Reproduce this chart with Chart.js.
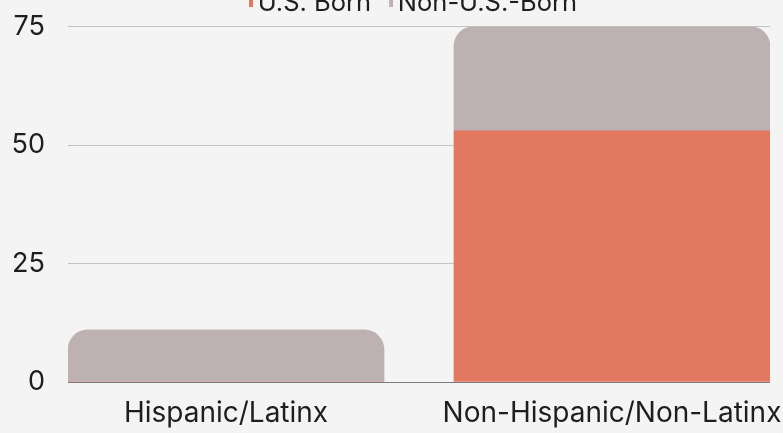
<!DOCTYPE html>
<html><head><meta charset="utf-8">
<script src="https://cdn.jsdelivr.net/npm/chart.js@4.4.1/dist/chart.umd.min.js"></script>
<style>
html,body{margin:0;padding:0;background:#f4f4f4;overflow:hidden;width:783px;height:433px}
#wrap{position:absolute;left:0;top:-19px;width:783px;height:452px}
</style></head><body>
<div id="wrap"><canvas id="c"></canvas></div>
<script>
const categories = ['Hispanic/Latinx', 'Non-Hispanic/Non-Latinx'];
const seriesNames = ['U.S. Born', 'Non-U.S.-Born'];
const usBorn = [0, 53];
const nonUsBorn = [11, 22];
const yTicks = [0, 25, 50, 75];

const COLORS = ['#e1785f', '#bdb1b2'];
function marker(color){
  const cv = document.createElement('canvas');
  cv.width = 20; cv.height = 7;
  const g = cv.getContext('2d');
  g.fillStyle = color; g.fillRect(16, 0, 4, 7);
  return cv;
}
const markers = COLORS.map(marker);
const toPoints = arr => arr.map((v, i) => ({x: i, y: v}));

const legendShift = {
  id: 'legendShift',
  afterLayout(chart) { const l = chart.legend; if (l) { l.left -= 10; l.right -= 10; } }
};

new Chart(document.getElementById('c'), {
  type: 'bar',
  data: { datasets: [
    {label: seriesNames[0], data: toPoints(usBorn), backgroundColor: COLORS[0], borderRadius: 0, barThickness: 316},
    {label: seriesNames[1], data: toPoints(nonUsBorn), backgroundColor: COLORS[1], borderRadius: 20, barThickness: 316}
  ]},
  plugins: [legendShift],
  options: {
    responsive: true, maintainAspectRatio: false, animation: false,
    layout: {padding: {left: 0, right: 13, top: 0, bottom: 0}},
    plugins: {
      legend: {
        display: true, position: 'top', fullSize: false,
        labels: {
          font: {family: 'Inter', size: 25.5, lineHeight: 29/25.5}, color: '#1e1e1e',
          boxWidth: 4, boxHeight: 7, usePointStyle: true, padding: 10,
          generateLabels(chart) {
            return chart.data.datasets.map((ds, i) => ({
              text: ds.label, fillStyle: ds.backgroundColor, strokeStyle: ds.backgroundColor,
              lineWidth: 0, pointStyle: markers[i], datasetIndex: i, hidden: false, fontColor: '#1e1e1e'
            }));
          }
        }
      },
      tooltip: {enabled: false}
    },
    scales: {
      x: {
        type: 'linear', stacked: true, min: -158/386, max: 1 + 158/386, offset: false,
        grid: {display: false}, border: {display: false},
        afterBuildTicks(s) { s.ticks = categories.map((_, i) => ({value: i})); },
        afterFit(s) { s.height = 51; s.paddingLeft = 0; s.paddingRight = 0; },
        ticks: {callback: (v) => categories[v], font: {family: 'Inter', size: 28}, color: '#1e1e1e', padding: 7, maxRotation: 0, autoSkip: false}
      },
      y: {
        stacked: true, min: 0, max: 75,
        afterBuildTicks(s) { s.ticks = yTicks.map(v => ({value: v})); },
        afterFit(s) { s.width = 68; s.paddingTop = 0; s.paddingBottom = 0; },
        grid: {color: (c) => (c.tick && c.tick.value === 0) ? '#7a7a7a' : '#c2c2c2', lineWidth: 1, drawTicks: false},
        border: {display: false},
        ticks: {font: {family: 'Inter', size: 27}, color: '#1e1e1e', padding: 23}
      }
    }
  }
});
</script></body></html>
